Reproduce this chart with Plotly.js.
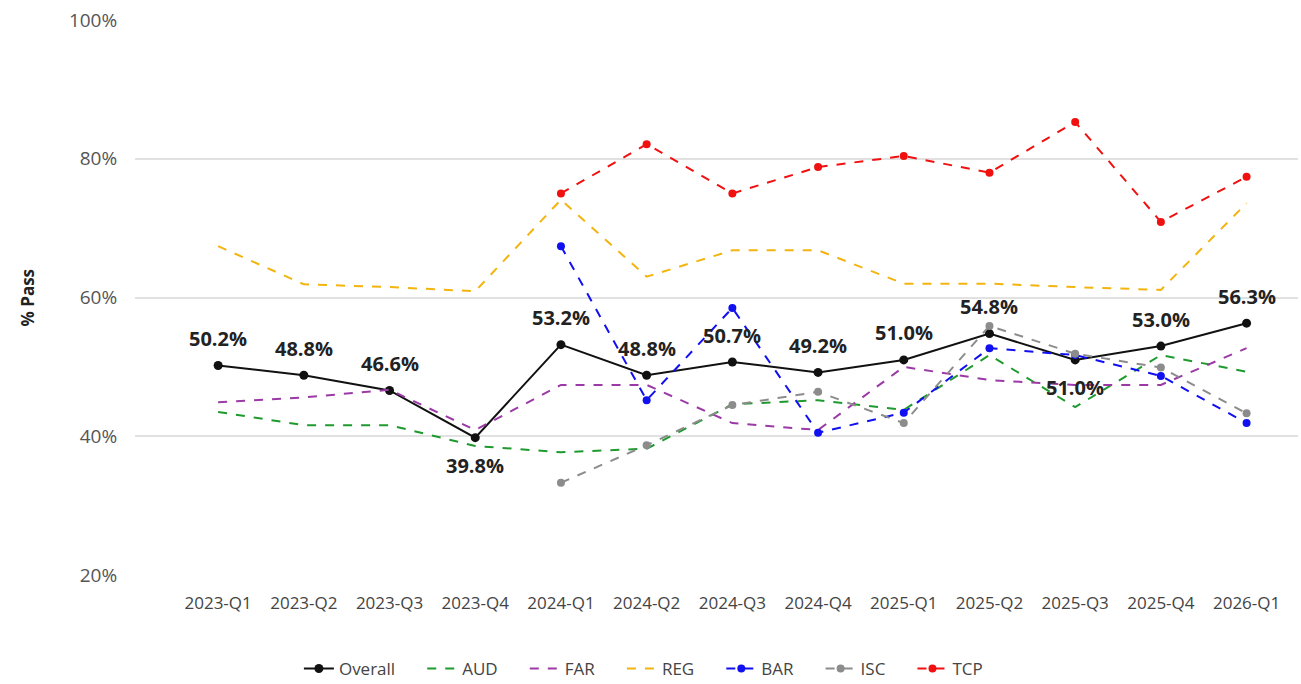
<!DOCTYPE html>
<html>
<head>
<meta charset="utf-8">
<script src="https://cdn.plot.ly/plotly-3.0.1.min.js"></script>
<style>html,body{margin:0;padding:0;background:#fff;}#chart{width:1301px;height:684px;}</style>
</head>
<body>
<div id="chart"></div>
<script>
const quarters = ["2023-Q1","2023-Q2","2023-Q3","2023-Q4","2024-Q1","2024-Q2","2024-Q3","2024-Q4","2025-Q1","2025-Q2","2025-Q3","2025-Q4","2026-Q1"];
const overall = [50.2, 48.8, 46.6, 39.8, 53.2, 48.8, 50.7, 49.2, 51.0, 54.8, 51.0, 53.0, 56.3];
const aud = [43.5, 41.6, 41.6, 38.6, 37.7, 38.2, 44.6, 45.2, 43.8, 51.7, 44.2, 51.7, 49.3];
const far = [44.9, 45.6, 46.7, 40.9, 47.4, 47.4, 41.9, 40.9, 50.0, 48.1, 47.4, 47.4, 52.7];
const reg = [67.4, 61.9, 61.5, 60.9, 74.1, 63.0, 66.8, 66.8, 62.0, 62.0, 61.5, 61.1, 73.6];
const bar = [null, null, null, null, 67.4, 45.2, 58.5, 40.5, 43.4, 52.7, 51.7, 48.7, 41.9];
const isc = [null, null, null, null, 33.3, 38.7, 44.5, 46.4, 41.9, 55.9, 51.9, 49.9, 43.3];
const tcp = [null, null, null, null, 75.0, 82.1, 75.0, 78.8, 80.4, 78.0, 85.3, 70.9, 77.4];
const seriesNames = ["Overall", "AUD", "FAR", "REG", "BAR", "ISC", "TCP"];
const labelBelow = [false, false, false, true, false, false, false, false, false, false, true, false, false];

const font = "'Open Sans', 'Noto Sans', sans-serif";
const pad = '\u00a0'.repeat(5);

function dashed(name, y, color, markers) {
  return {
    type: 'scatter', x: quarters, y: y, name: name + pad,
    mode: markers ? 'lines+markers' : 'lines',
    line: {color: color, width: 2, dash: 'dash'},
    marker: {color: color, size: 8},
    connectgaps: false, hoverinfo: 'skip'
  };
}

const traces = [
  {type: 'scatter', x: quarters, y: overall, name: seriesNames[0] + pad, mode: 'lines+markers',
   line: {color: '#111', width: 2}, marker: {color: '#111', size: 9}},
  dashed(seriesNames[1], aud, '#1e9a2e', false),
  dashed(seriesNames[2], far, '#9b3aa6', false),
  dashed(seriesNames[3], reg, '#f4b40f', false),
  dashed(seriesNames[4], bar, '#1010f0', true),
  dashed(seriesNames[5], isc, '#8c8c8c', true),
  dashed(seriesNames[6], tcp, '#f01010', true)
];

const annotations = quarters.map((q, i) => ({
  x: q, y: overall[i], xref: 'x', yref: 'y',
  text: overall[i].toFixed(1) + '%', showarrow: false,
  yanchor: 'middle', xanchor: 'center',
  yshift: labelBelow[i] ? -28 : 27,
  font: {family: font, size: 20, color: '#222', weight: 'bold'}
}));

annotations.push({
  xref: 'paper', yref: 'paper', x: 0, y: 0.5, xshift: -108,
  xanchor: 'center', yanchor: 'middle', textangle: -90, showarrow: false,
  text: '% Pass', font: {family: font, size: 17, color: '#222', weight: 'bold'}
});

const layout = {
  width: 1301, height: 684,
  paper_bgcolor: '#fff', plot_bgcolor: '#fff',
  margin: {l: 135, r: 3, t: 20, b: 109},
  font: {family: font, color: '#555'},
  showlegend: true,
  legend: {orientation: 'h', xref: 'container', yref: 'container', x: 0.503, xanchor: 'center', y: 0.022, yanchor: 'middle',
           font: {family: font, size: 17, color: '#444'}, traceorder: 'normal'},
  xaxis: {type: 'category', range: [-0.97, 12.6], showgrid: false, zeroline: false, showline: false,
          ticks: 'outside', ticklen: 13, tickcolor: 'rgba(0,0,0,0)',
          tickfont: {family: font, size: 17, color: '#444'}},
  yaxis: {range: [20, 100], tickvals: [20, 40, 60, 80, 100], ticktext: ['20%','40%','60%','80%','100%'],
          showgrid: true, gridcolor: '#e1e1e1', gridwidth: 2, zeroline: false, showline: false,
          ticks: 'outside', ticklen: 13, tickcolor: 'rgba(0,0,0,0)',
          tickfont: {family: font, size: 19, color: '#555'}},
  annotations: annotations
};

Plotly.newPlot('chart', traces, layout, {displayModeBar: false, staticPlot: true});
</script>
</body>
</html>
